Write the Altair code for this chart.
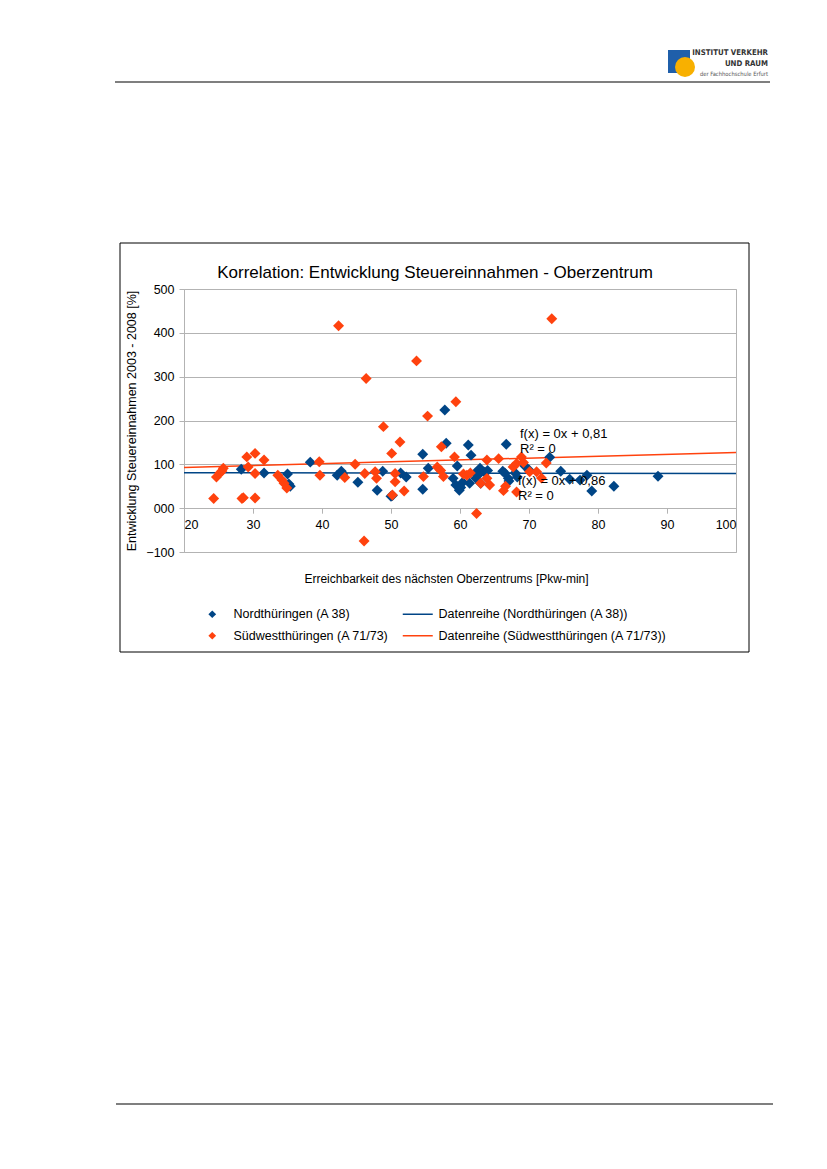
import altair as alt
import pandas as pd

# ---------------- data ----------------
nord_x = [28.3, 31.6, 35.0, 35.2, 35.4, 38.3, 42.2, 42.8, 43.0, 45.2,
          48.0, 48.8, 50.0, 50.2, 51.4, 52.2, 54.6, 54.6, 55.4, 57.8,
          58.0, 59.0, 59.6, 59.4, 59.9, 60.4, 61.2, 61.6, 61.4, 62.2,
          62.3, 62.9, 63.0, 63.6, 66.7, 66.5, 67.0, 67.1, 68.0, 68.3,
          69.4, 70.0, 73.0, 74.6, 75.9, 77.4, 78.4, 79.1, 82.3, 88.7,
          60.1, 62.6, 64.0, 66.2]
nord_y = [89, 80, 78, 55, 50, 105, 75, 84, 78, 59,
          41, 84, 27, 29, 80, 71, 123, 43, 91, 224,
          148, 68, 96, 53, 41, 59, 144, 121, 57, 80,
          68, 91, 57, 82, 146, 80, 68, 62, 80, 71,
          96, 87, 116, 84, 66, 64, 75, 39, 50, 73,
          47, 75, 86, 84]

sued_x = [24.3, 24.7, 25.2, 25.7, 25.5, 28.4, 28.6, 29.1, 29.3, 30.3,
          30.3, 30.3, 31.6, 33.6, 34.2, 34.5, 34.9, 39.6, 39.7, 42.4,
          43.3, 44.8, 46.1, 46.2, 46.4, 47.7, 47.9, 48.9, 50.1, 50.2,
          50.6, 50.6, 51.3, 51.9, 53.7, 54.7, 55.3, 56.7, 57.3, 57.6,
          57.2, 59.2, 59.4, 60.5, 61.0, 61.5, 62.4, 63.0, 63.9, 63.9,
          64.3, 65.6, 66.3, 66.6, 67.7, 68.2, 68.9, 69.2, 70.1, 71.1,
          71.8, 72.5, 73.3, 68.2]
sued_y = [22, 71, 80, 91, 85, 22, 24, 117, 94, 125,
          79, 23, 110, 75, 64, 57, 46, 106, 75, 416,
          70, 100, -75, 79, 296, 83, 68, 186, 125, 30,
          79, 60, 151, 39, 336, 72, 210, 94, 140, 72,
          86, 117, 243, 78, 75, 80, -12, 57, 110, 68,
          53, 113, 40, 50, 94, 102, 117, 104, 83, 83,
          69, 103, 432, 37]

trend_x = [20, 100]
trend_nord = [81, 79]
trend_sued = [93, 127]

x_ticks = [20, 30, 40, 50, 60, 70, 80, 90, 100]
y_ticks = [-100, 0, 100, 200, 300, 400, 500]

NORD = "Nordthüringen (A 38)"
SUED = "Südwestthüringen (A 71/73)"
TN = "Datenreihe (Nordthüringen (A 38))"
TS = "Datenreihe (Südwestthüringen (A 71/73))"
BLUE = "#004586"
ORANGE = "#ff420e"
GRID = "#b3b3b3"
FONT = "Liberation Sans"
NARROW = "Liberation Sans Narrow, DejaVu Sans Condensed, Liberation Sans"

pts = pd.DataFrame({
    "x": nord_x + sued_x,
    "y": nord_y + sued_y,
    "Reihe": [NORD] * len(nord_x) + [SUED] * len(sued_x),
})
trend = pd.DataFrame({
    "x": trend_x + trend_x,
    "y": trend_nord + trend_sued,
    "Trend": [TN, TN, TS, TS],
})
one = pd.DataFrame({"a": [0]})

xscale = alt.Scale(domain=[20, 100], nice=False, zero=False)
yscale = alt.Scale(domain=[-100, 500], nice=False, zero=False)

xaxis = alt.Axis(values=x_ticks, grid=False, domain=False, offset=-43.8,
                 tickColor=GRID, tickSize=5, labelPadding=5, labelFontSize=12.5,
                 labelColor="black", labelFont=FONT,
                 title="Erreichbarkeit des nächsten Oberzentrums [Pkw-min]",
                 titleX=262, titleY=70, titleBaseline="middle", titleAlign="center",
                 titleFontSize=12, titleFontWeight="normal", titleColor="black",
                 titleFont=FONT)
yaxis = alt.Axis(values=y_ticks, format="03d", grid=True, gridColor=GRID,
                 domainColor=GRID, tickColor=GRID, tickSize=5, labelPadding=5,
                 labelFontSize=12.5, labelColor="black", labelFont=FONT,
                 title="Entwicklung Steuereinnahmen 2003 - 2008 [%]",
                 titleX=-53, titleY=131.5, titleAngle=270, titleBaseline="middle",
                 titleAlign="center", titleFontSize=12.5, titleFontWeight="normal",
                 titleColor="black", titleFont=FONT)

base_one = alt.Chart(one)

frame = base_one.mark_rect(fillOpacity=0, stroke="black", strokeWidth=1).encode(
    x=alt.value(-64), x2=alt.value(565), y=alt.value(-46), y2=alt.value(363))
top_rule = base_one.mark_rule(color="#555555", strokeWidth=1.5).encode(
    x=alt.value(-69), x2=alt.value(586), y=alt.value(-207))
bottom_rule = base_one.mark_rule(color="#555555", strokeWidth=1.5).encode(
    x=alt.value(-68), x2=alt.value(589), y=alt.value(815))
logo_sq = base_one.mark_rect(color="#1f5faa").encode(
    x=alt.value(484), x2=alt.value(506), y=alt.value(-239), y2=alt.value(-216))
logo_circ = base_one.mark_point(shape="circle", filled=True, color="#f8b000",
                                size=400, opacity=1).encode(
    x=alt.value(501), y=alt.value(-222))
logo_t1 = base_one.mark_text(text="INSTITUT VERKEHR", align="right", baseline="middle",
                             font=NARROW, fontSize=7.8, fontWeight="bold",
                             color="#333333").encode(x=alt.value(584), y=alt.value(-236))
logo_t2 = base_one.mark_text(text="UND RAUM", align="right", baseline="middle",
                             font=NARROW, fontSize=7.8, fontWeight="bold",
                             color="#333333").encode(x=alt.value(584), y=alt.value(-225.5))
logo_t3 = base_one.mark_text(text="der Fachhochschule Erfurt", align="right",
                             baseline="middle", font=NARROW, fontSize=5.8,
                             color="#555555").encode(x=alt.value(584), y=alt.value(-215.5))

title = base_one.mark_text(text="Korrelation: Entwicklung Steuereinnahmen - Oberzentrum",
                           align="center", baseline="alphabetic", font=FONT,
                           fontSize=17, color="black").encode(
    x=alt.value(251), y=alt.value(-11))

points = alt.Chart(pts).mark_point(shape="diamond", filled=True, size=120,
                                   opacity=1, strokeWidth=0).encode(
    x=alt.X("x:Q", scale=xscale, axis=xaxis),
    y=alt.Y("y:Q", scale=yscale, axis=yaxis),
    fill=alt.Fill("Reihe:N",
                  scale=alt.Scale(domain=[NORD, SUED], range=[BLUE, ORANGE]),
                  legend=alt.Legend(orient="none", legendX=22, legendY=319,
                                    title=None, symbolSize=60, symbolType="diamond",
                                    labelFontSize=12.5, labelFont=FONT,
                                    labelColor="black", labelOffset=15,
                                    labelLimit=0, rowPadding=8.5, padding=0)),
)

lines = alt.Chart(trend).mark_line(strokeWidth=1.5).encode(
    x=alt.X("x:Q", scale=xscale),
    y=alt.Y("y:Q", scale=yscale),
    stroke=alt.Stroke("Trend:N",
                      scale=alt.Scale(domain=[TN, TS], range=[BLUE, ORANGE]),
                      legend=alt.Legend(orient="none", legendX=227.5, legendY=319,
                                        title=None, symbolSize=100,
                                        symbolType="M-3,0H3",
                                        symbolStrokeWidth=1.5,
                                        labelFontSize=12.5, labelFont=FONT,
                                        labelColor="black", labelOffset=14.5,
                                        labelLimit=0, rowPadding=8.5, padding=0)),
    detail="Trend:N",
)

def lab(txt, x, y):
    return base_one.mark_text(text=txt, align="left", baseline="middle", font=FONT,
                              fontSize=13, color="black").encode(
        x=alt.value(x), y=alt.value(y))

labels = (lab("f(x) = 0x + 0,81", 336, 145) + lab("R² = 0", 336, 160) +
          lab("f(x) = 0x + 0,86", 334, 192) + lab("R² = 0", 334, 207))

chart = alt.layer(
    frame, top_rule, bottom_rule, logo_sq, logo_circ, logo_t1, logo_t2, logo_t3,
    title, lines, points, labels
).resolve_scale(fill="independent", stroke="independent").properties(
    width=552, height=263,
    autosize=alt.AutoSizeParams(type="none"),
    padding={"left": 176, "top": 281, "right": 83, "bottom": 576},
).configure(font=FONT).configure_view(stroke=GRID, strokeWidth=1)

chart.save("out.html", embed_options={"renderer": "svg", "actions": False})
